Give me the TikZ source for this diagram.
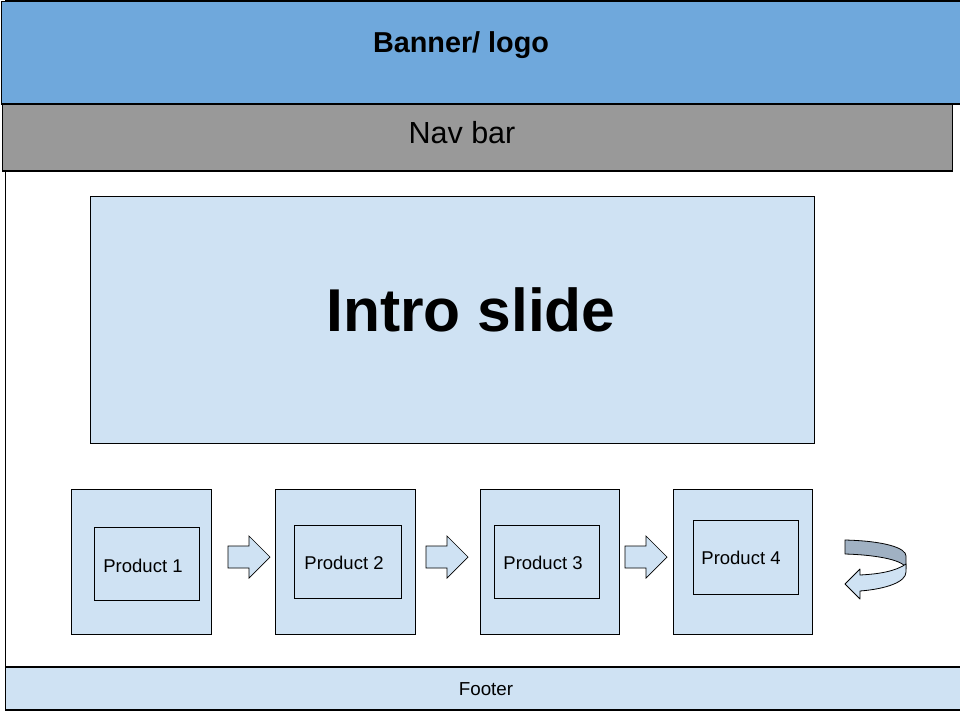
\documentclass[tikz,border=0pt]{standalone}
\usepackage{fontspec}
\setmainfont{Liberation Sans}
\begin{document}
\begin{tikzpicture}[x=1pt,y=-1pt,
  box/.style={draw=black,line width=0.9pt,inner sep=0pt,outer sep=0pt},
  label text/.style={inner sep=0pt,anchor=base,text=black},
  barrow/.pic={\draw[line width=0.7pt,fill=lightblue]
      (0,0) -- (-21,-21) -- (-21,-11) -- (-42,-11) -- (-42,11) -- (-21,11) -- (-21,21) -- cycle;}]
\definecolor{bannerblue}{HTML}{6FA8DC}
\definecolor{navgray}{HTML}{999999}
\definecolor{lightblue}{HTML}{CFE2F3}
\definecolor{ribbondark}{HTML}{A0B1C3}
\path[use as bounding box] (0,0) rectangle (960,720);
\clip (0,0) rectangle (960,720);
\fill[white] (0,0) rectangle (960,720);

% page frame
\draw[line width=1.2pt] (970,0.6) -- (5.5,0.6) -- (5.5,710) -- (970,710);

% banner and navigation bar
\node[box,fill=bannerblue,line width=1.1pt,anchor=north west,minimum width=970pt,minimum height=102.5pt] (banner) at (1.5,1.5) {};
\node[label text,font=\bfseries\fontsize{28.8}{32}\selectfont] (bannertext) at (461,52) {Banner/ logo};
\node[box,fill=navgray,line width=1.1pt,anchor=north west,minimum width=950pt,minimum height=67pt] (nav) at (2.5,104) {};
\node[label text,font=\fontsize{30.5}{33}\selectfont] (navtext) at (462,143.5) {Nav bar};

% intro slide
\node[box,fill=lightblue,anchor=north west,minimum width=724pt,minimum height=247pt] (intro) at (90,196) {};
\node[label text,font=\bfseries\fontsize{60.5}{64}\selectfont] (introtext) at (471,331) {Intro slide};

% product carousel
\node[box,fill=lightblue,anchor=north west,minimum width=140pt,minimum height=145pt] (p1) at (71,489) {};
\node[box,fill=lightblue,anchor=north west,minimum width=140pt,minimum height=145pt] (p2) at (275,489) {};
\node[box,fill=lightblue,anchor=north west,minimum width=139pt,minimum height=145pt] (p3) at (480,489) {};
\node[box,fill=lightblue,anchor=north west,minimum width=139pt,minimum height=145pt] (p4) at (673,489) {};

\node[box,fill=lightblue,anchor=north west,minimum width=105pt,minimum height=73pt] (i1) at (94,527) {};
\node[box,fill=lightblue,anchor=north west,minimum width=107pt,minimum height=73pt] (i2) at (294,525) {};
\node[box,fill=lightblue,anchor=north west,minimum width=105pt,minimum height=73pt] (i3) at (494,525) {};
\node[box,fill=lightblue,anchor=north west,minimum width=105pt,minimum height=74pt] (i4) at (693,520) {};

\node[label text,font=\fontsize{18.5}{20}\selectfont] (t1) at (143,572) {Product 1};
\node[label text,font=\fontsize{18.5}{20}\selectfont] (t2) at (344,569) {Product 2};
\node[label text,font=\fontsize{18.5}{20}\selectfont] (t3) at (543,569) {Product 3};
\node[label text,font=\fontsize{18.5}{20}\selectfont] (t4) at (741,564) {Product 4};

% block arrows between products
\pic at (270,557) {barrow};
\pic at (468,557) {barrow};
\pic at (667,557) {barrow};

% turn-around arrow
\draw[line width=0.8pt,fill=ribbondark,line join=round]
  (845,540) .. controls (885,541) and (906,548) .. (906,556)
  -- (906,569) .. controls (906,561) and (880,555) .. (845,554) -- cycle;
\draw[line width=0.8pt,fill=lightblue,line join=round]
  (906,564) .. controls (896,571) and (880,574) .. (860,575)
  -- (860,569) -- (845,584) -- (860,599) -- (860,591)
  .. controls (886,589) and (906,582) .. (906,572) -- cycle;

% footer
\node[box,fill=lightblue,line width=1.1pt,anchor=north west,minimum width=970pt,minimum height=43pt] (footer) at (5.5,667) {};
\node[label text,font=\fontsize{18.8}{21}\selectfont] (footertext) at (486,695.5) {Footer};
\end{tikzpicture}
\end{document}
